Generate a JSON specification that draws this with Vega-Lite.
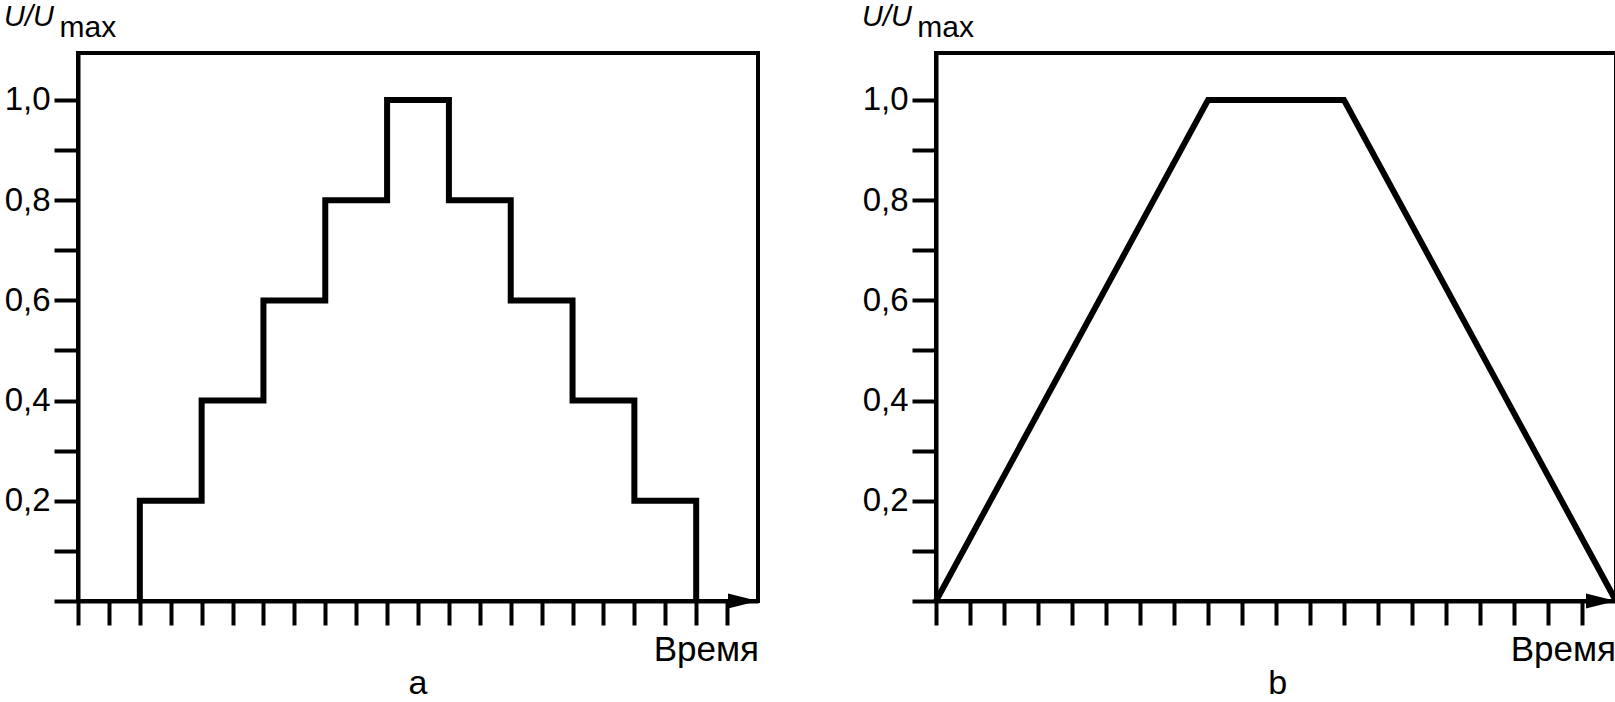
{
  "$schema": "https://vega.github.io/schema/vega-lite/v6.json",
  "background": "white",
  "padding": {"left": 2, "top": 0, "right": 0, "bottom": 0},
  "bounds": "flush",
  "spacing": 178,
  "config": {
    "font": "Liberation Sans",
    "view": {"stroke": "black", "strokeWidth": 4},
    "axis": {
      "domainColor": "black", "domainWidth": 4, "tickColor": "black", "tickWidth": 4,
      "tickSize": 24, "grid": false, "title": null, "labelFont": "Liberation Sans",
      "labelFontSize": 33, "labelColor": "black", "labelPadding": 4
    },
    "text": {"font": "Liberation Sans", "color": "black"}
  },
  "datasets": {
    "stepA": [
      {"i": 0, "t": 2, "u": 0}, {"i": 1, "t": 2, "u": 0.2}, {"i": 2, "t": 4, "u": 0.2}, {"i": 3, "t": 4, "u": 0.4},
      {"i": 4, "t": 6, "u": 0.4}, {"i": 5, "t": 6, "u": 0.6}, {"i": 6, "t": 8, "u": 0.6}, {"i": 7, "t": 8, "u": 0.8},
      {"i": 8, "t": 10, "u": 0.8}, {"i": 9, "t": 10, "u": 1.0}, {"i": 10, "t": 12, "u": 1.0}, {"i": 11, "t": 12, "u": 0.8},
      {"i": 12, "t": 14, "u": 0.8}, {"i": 13, "t": 14, "u": 0.6}, {"i": 14, "t": 16, "u": 0.6}, {"i": 15, "t": 16, "u": 0.4},
      {"i": 16, "t": 18, "u": 0.4}, {"i": 17, "t": 18, "u": 0.2}, {"i": 18, "t": 20, "u": 0.2}, {"i": 19, "t": 20, "u": 0}
    ],
    "rampB": [
      {"i": 0, "t": 0, "u": 0}, {"i": 1, "t": 8, "u": 1.0}, {"i": 2, "t": 12, "u": 1.0}, {"i": 3, "t": 20, "u": 0}
    ]
  },
  "hconcat": [
    {
      "width": 680,
      "height": 548,
      "layer": [
        {
          "data": {"name": "stepA"},
          "mark": {"type": "line", "color": "black", "strokeWidth": 6, "strokeJoin": "miter", "strokeCap": "butt"},
          "encoding": {
            "x": {"field": "t", "type": "quantitative", "scale": {"domain": [0, 22], "nice": false},
                  "axis": {"values": [0,1,2,3,4,5,6,7,8,9,10,11,12,13,14,15,16,17,18,19,20,21], "tickCount": 40, "labels": false}},
            "y": {"field": "u", "type": "quantitative", "scale": {"domain": [0, 1.0938], "nice": false},
                  "axis": {"values": [0,0.1,0.2,0.3,0.4,0.5,0.6,0.7,0.8,0.9,1], "tickCount": 20,
                           "labelExpr": "datum.value > 0.05 && round(datum.value*10) % 2 == 0 ? replace(format(datum.value, '.1f'), '.', ',') : ''"}},
            "order": {"field": "i"}
          }
        },
        {
          "data": {"values": [{"label": "arrow"}]},
          "mark": {"type": "point", "shape": "M-2,-0.5L0,0L-2,0.5Z", "filled": true, "color": "black", "opacity": 1, "size": 900, "strokeWidth": 0},
          "encoding": {"x": {"datum": 22}, "y": {"datum": 0}}
        },
        {
          "data": {"values": [{"label": "U/U"}]},
          "mark": {"type": "text", "align": "left", "baseline": "alphabetic", "fontSize": 29, "fontStyle": "italic"},
          "encoding": {"x": {"datum": -2.394}, "y": {"datum": 1.1477}, "text": {"field": "label"}}
        },
        {
          "data": {"values": [{"label": "max"}]},
          "mark": {"type": "text", "align": "left", "baseline": "alphabetic", "fontSize": 30},
          "encoding": {"x": {"datum": -0.6}, "y": {"datum": 1.126}, "text": {"field": "label"}}
        },
        {
          "data": {"values": [{"label": "Время"}]},
          "mark": {"type": "text", "align": "right", "baseline": "alphabetic", "fontSize": 35},
          "encoding": {"x": {"datum": 22.03}, "y": {"datum": -0.12}, "text": {"field": "label"}}
        },
        {
          "data": {"values": [{"label": "a"}]},
          "mark": {"type": "text", "align": "center", "baseline": "alphabetic", "fontSize": 34},
          "encoding": {"x": {"datum": 11}, "y": {"datum": -0.1856}, "text": {"field": "label"}}
        }
      ]
    },
    {
      "width": 680,
      "height": 548,
      "layer": [
        {
          "data": {"name": "rampB"},
          "mark": {"type": "line", "color": "black", "strokeWidth": 6, "strokeJoin": "miter", "strokeCap": "butt"},
          "encoding": {
            "x": {"field": "t", "type": "quantitative", "scale": {"domain": [0, 20], "nice": false},
                  "axis": {"values": [0,1,2,3,4,5,6,7,8,9,10,11,12,13,14,15,16,17,18,19], "tickCount": 40, "labels": false}},
            "y": {"field": "u", "type": "quantitative", "scale": {"domain": [0, 1.0938], "nice": false},
                  "axis": {"values": [0,0.1,0.2,0.3,0.4,0.5,0.6,0.7,0.8,0.9,1], "tickCount": 20,
                           "labelExpr": "datum.value > 0.05 && round(datum.value*10) % 2 == 0 ? replace(format(datum.value, '.1f'), '.', ',') : ''"}},
            "order": {"field": "i"}
          }
        },
        {
          "data": {"values": [{"label": "arrow"}]},
          "mark": {"type": "point", "shape": "M-2,-0.5L0,0L-2,0.5Z", "filled": true, "color": "black", "opacity": 1, "size": 900, "strokeWidth": 0},
          "encoding": {"x": {"datum": 20}, "y": {"datum": 0}}
        },
        {
          "data": {"values": [{"label": "U/U"}]},
          "mark": {"type": "text", "align": "left", "baseline": "alphabetic", "fontSize": 29, "fontStyle": "italic"},
          "encoding": {"x": {"datum": -2.176}, "y": {"datum": 1.1477}, "text": {"field": "label"}}
        },
        {
          "data": {"values": [{"label": "max"}]},
          "mark": {"type": "text", "align": "left", "baseline": "alphabetic", "fontSize": 30},
          "encoding": {"x": {"datum": -0.55}, "y": {"datum": 1.126}, "text": {"field": "label"}}
        },
        {
          "data": {"values": [{"label": "Время"}]},
          "mark": {"type": "text", "align": "right", "baseline": "alphabetic", "fontSize": 35},
          "encoding": {"x": {"datum": 20}, "y": {"datum": -0.12}, "text": {"field": "label"}}
        },
        {
          "data": {"values": [{"label": "b"}]},
          "mark": {"type": "text", "align": "center", "baseline": "alphabetic", "fontSize": 34},
          "encoding": {"x": {"datum": 10.05}, "y": {"datum": -0.1856}, "text": {"field": "label"}}
        }
      ]
    }
  ]
}
